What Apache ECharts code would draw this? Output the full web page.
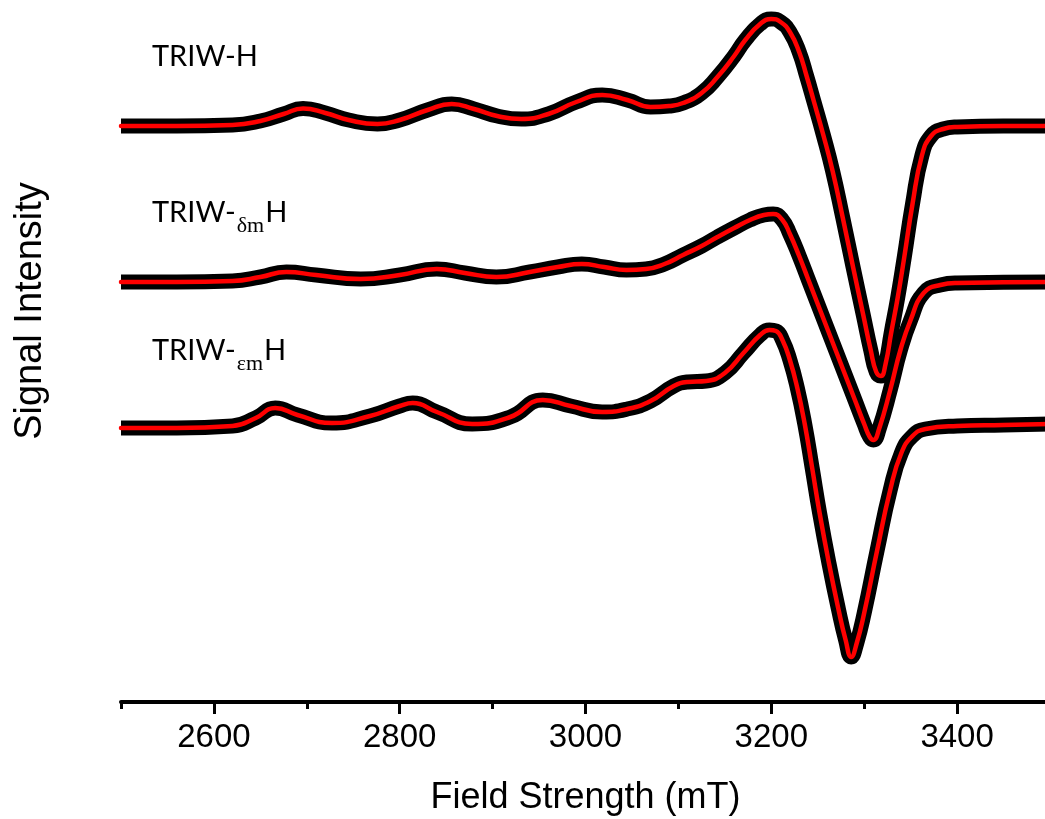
<!DOCTYPE html>
<html>
<head>
<meta charset="utf-8">
<script src="https://cdn.jsdelivr.net/npm/echarts@6/dist/echarts.min.js"></script>
<style>
  html, body { margin: 0; padding: 0; background: #fff; overflow: hidden; }
  #chart { width: 1050px; height: 819px; }
</style>
</head>
<body>
<div id="chart"></div>
<script>
// EPR spectra: [field (mT), signal intensity relative to each trace's baseline]
const triwH = [
  [2500, 0], [2560, 0], [2620, 1], [2650, 5], [2675, 12], [2696, 17.5], [2720, 13],
  [2745, 6], [2776, 2], [2800, 6], [2830, 16], [2856, 22], [2880, 17], [2905, 10],
  [2931, 7], [2960, 12], [2990, 24], [3018, 31], [3045, 26], [3070, 19], [3090, 20],
  [3105, 23], [3125, 33], [3142, 49], [3160, 70], [3172, 86], [3188, 102], [3200, 107],
  [3210, 104], [3220, 94], [3230, 74], [3238, 50], [3246, 24], [3256, -9], [3266, -45],
  [3277, -92], [3288, -141], [3299, -189], [3307, -224], [3313, -246], [3318, -250],
  [3323, -238], [3329, -207], [3336, -172], [3343, -132], [3352, -78], [3362, -30],
  [3372, -10], [3385, -3], [3400, -1], [3450, 0], [3500, 0]
];
const triwDmH = [
  [2500, 0], [2560, 0], [2620, 1], [2650, 5], [2678, 10], [2710, 7], [2758, 3],
  [2800, 7], [2840, 13], [2870, 9], [2904, 5], [2940, 10], [2970, 15], [2996, 18],
  [3020, 15], [3044, 12], [3065, 13], [3085, 18], [3105, 27], [3125, 36], [3142, 45],
  [3160, 54], [3177, 62], [3192, 67], [3202, 68], [3212, 62], [3220, 48], [3230, 26],
  [3240, 2], [3250, -22], [3260, -46], [3270, -70], [3280, -94], [3290, -118],
  [3300, -142], [3306, -155], [3310, -158], [3316, -147], [3328, -108], [3339, -68],
  [3350, -38], [3364, -11], [3382, -3], [3400, -1], [3500, 0]
];
const triwEmH = [
  [2500, 0], [2560, 0], [2620, 2], [2645, 10], [2666, 20], [2690, 13], [2727, 5],
  [2768, 12], [2800, 22], [2814, 25], [2840, 16], [2878, 4], [2919, 11], [2954, 28],
  [2984, 22], [3018, 16], [3045, 19], [3070, 27], [3095, 42], [3110, 46], [3130, 47],
  [3150, 55], [3170, 75], [3188, 93], [3198, 98], [3205, 97], [3212, 88], [3220, 68],
  [3228, 40], [3236, 4], [3244, -40], [3252, -85], [3262, -135], [3272, -180],
  [3280, -212], [3286, -229], [3292, -215], [3300, -185], [3314, -122], [3328, -62],
  [3340, -25], [3352, -8], [3366, -1], [3400, 2], [3450, 3], [3500, 4]
];

// vertical stacking offsets of the three spectra (arbitrary units)
const stackOffsets = [576, 420, 274];
const spectra = [triwH, triwDmH, triwEmH];

// sample labels: main text, subscript, trailing text
const sampleLabels = [
  ['TRIW-', '', 'H'],
  ['TRIW-', '\u03b4m', 'H'],
  ['TRIW-', '\u03b5m', 'H']
];

const majorTicks = [2600, 2800, 3000, 3200, 3400];
const minorTicks = [2500, 2700, 2900, 3100, 3300, 3500];

const chart = echarts.init(document.getElementById('chart'), null, { renderer: 'canvas' });

const series = [];
spectra.forEach((spec, i) => {
  const shifted = spec.map(p => [p[0], p[1] + stackOffsets[i]]);
  // measured trace (thick black band)
  series.push({
    type: 'line', data: shifted, xAxisIndex: 0, yAxisIndex: 0,
    showSymbol: false, smooth: 0.5, silent: true,
    lineStyle: { color: '#000', width: 15, cap: 'butt', join: 'round' },
    z: 2 + i * 2
  });
  // simulated fit (red)
  series.push({
    type: 'line', data: shifted, xAxisIndex: 0, yAxisIndex: 0,
    showSymbol: false, smooth: 0.5, silent: true,
    lineStyle: { color: '#ff0000', width: 4.5, cap: 'round', join: 'round' },
    z: 3 + i * 2
  });
});

// label text elements, chained with measured widths
const measureCtx = document.createElement('canvas').getContext('2d');
function textWidth(text, font) { measureCtx.font = font; return measureCtx.measureText(text).width; }
const mainFont = { size: 29, family: 'Lato' };
const subFont = { size: 22, family: 'Liberation Serif' };
const labelX = 152;
const labelY = [57, 213, 351];
const graphics = [];
sampleLabels.forEach((parts, i) => {
  let x = labelX;
  const y = labelY[i];
  const mf = mainFont.size + 'px ' + mainFont.family;
  const sf = subFont.size + 'px ' + subFont.family;
  graphics.push({ type: 'text', x: x, y: y, silent: true,
    style: { text: parts[0], fontSize: mainFont.size, fontFamily: mainFont.family, fill: '#000', align: 'left', verticalAlign: 'middle' } });
  x += textWidth(parts[0], mf);
  if (parts[1]) {
    x += 1;
    graphics.push({ type: 'text', x: x, y: y + 13, silent: true,
      style: { text: parts[1], fontSize: subFont.size, fontFamily: subFont.family, fill: '#000', align: 'left', verticalAlign: 'middle' } });
    x += textWidth(parts[1], sf) + 1;
  }
  graphics.push({ type: 'text', x: x, y: y, silent: true,
    style: { text: parts[2], fontSize: mainFont.size, fontFamily: mainFont.family, fill: '#000', align: 'left', verticalAlign: 'middle' } });
});
// y-axis title
graphics.push({ type: 'text', x: 31, y: 311, rotation: Math.PI / 2, silent: true,
  style: { text: 'Signal Intensity', fontSize: 38, fontFamily: 'Liberation Sans', fill: '#000', align: 'center', verticalAlign: 'middle' } });

chart.setOption({
  animation: false,
  backgroundColor: '#fff',
  grid: { left: 121, right: 0, top: 12, bottom: 117, containLabel: false, outerBoundsMode: 'none' },
  xAxis: [
    {
      type: 'value', min: 2500, max: 3500, position: 'bottom',
      axisLine: { show: true, onZero: false, lineStyle: { color: '#000', width: 4 } },
      axisTick: { show: true, customValues: majorTicks, length: 12, lineStyle: { color: '#000', width: 3 } },
      axisLabel: { show: true, customValues: majorTicks, margin: 19, color: '#000', fontSize: 33,
        fontFamily: 'Liberation Sans', formatter: v => String(v) },
      splitLine: { show: false },
      name: 'Field Strength (mT)', nameLocation: 'middle', nameGap: 78,
      nameTextStyle: { color: '#000', fontSize: 36, fontFamily: 'Liberation Sans' }
    },
    {
      type: 'value', min: 2500, max: 3500, position: 'bottom', gridIndex: 0,
      axisLine: { show: false },
      axisTick: { show: true, customValues: minorTicks, length: 7, lineStyle: { color: '#000', width: 3 } },
      axisLabel: { show: false },
      splitLine: { show: false }
    }
  ],
  yAxis: {
    type: 'value', min: 0, max: 690, show: false
  },
  series: series,
  graphic: graphics
});
</script>
</body>
</html>
